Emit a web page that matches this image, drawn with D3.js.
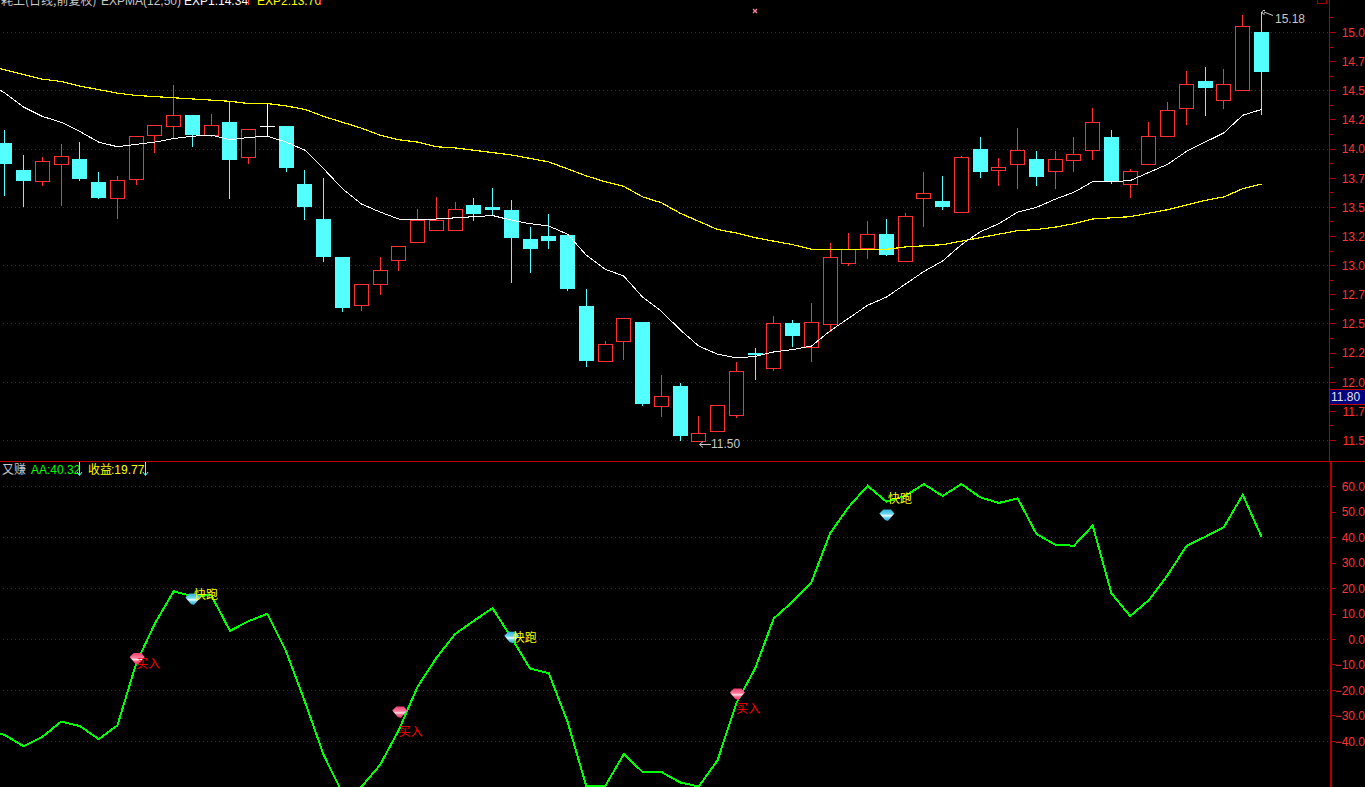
<!DOCTYPE html>
<html><head><meta charset="utf-8">
<style>html,body{margin:0;padding:0;background:#000;overflow:hidden}svg{display:block}</style>
<script src="https://cdn.jsdelivr.net/npm/d3@7/dist/d3.min.js"></script>
</head><body><svg id="c" width="1365" height="787"></svg>
<script>
// kind: r = rising (hollow red), c = falling (filled cyan), w = doji (white)
const kinds="c c r r c c r r r r c r c r w c c c c r r r r r r c c c c c c c r r c r c r r r c r c r r r r c r r c r c r r c r r r c r r r r c r r c".split(" ");
const highs=[14.16,13.95,13.93,14.04,14.06,13.80,13.77,14.11,14.20,14.55,14.29,14.30,14.40,14.17,14.39,14.19,13.82,13.75,13.07,12.84,13.07,13.16,13.49,13.59,13.55,13.58,13.67,13.56,13.33,13.44,13.26,12.80,12.35,12.55,12.51,12.06,11.99,11.71,11.80,12.17,12.29,12.57,12.53,12.68,13.19,13.28,13.38,13.40,13.45,13.80,13.77,13.94,14.10,13.92,14.18,13.98,13.98,14.10,14.35,14.16,13.83,14.23,14.40,14.67,14.70,14.69,15.15,15.18];
const tops=[14.05,13.82,13.89,13.94,13.91,13.71,13.73,14.11,14.20,14.29,14.29,14.20,14.23,14.17,14.19,14.19,13.70,13.40,13.07,12.84,12.96,13.16,13.39,13.39,13.48,13.52,13.50,13.47,13.22,13.25,13.26,12.65,12.32,12.55,12.51,11.88,11.96,11.56,11.80,12.09,12.25,12.50,12.50,12.51,13.07,13.14,13.27,13.27,13.42,13.62,13.55,13.93,14.00,13.84,13.99,13.91,13.91,13.95,14.23,14.10,13.81,14.11,14.33,14.55,14.58,14.55,15.05,15.00];
const bottoms=[13.87,13.73,13.73,13.87,13.74,13.58,13.58,13.74,14.12,14.20,14.12,14.12,13.91,13.93,14.19,13.84,13.50,13.07,12.64,12.66,12.84,13.05,13.20,13.31,13.31,13.44,13.48,13.24,13.14,13.21,12.80,12.18,12.18,12.35,11.81,11.80,11.54,11.50,11.58,11.72,12.23,12.12,12.40,12.30,12.50,13.02,13.15,13.09,13.04,13.58,13.50,13.46,13.80,13.82,13.87,13.76,13.81,13.91,13.99,13.72,13.70,13.87,14.11,14.35,14.52,14.42,14.51,14.66];
const lows=[13.60,13.50,13.68,13.51,13.73,13.57,13.40,13.69,13.97,14.09,14.02,14.10,13.57,13.87,14.11,13.80,13.39,13.03,12.60,12.61,12.75,12.95,13.20,13.31,13.31,13.38,13.43,12.85,12.94,13.14,12.78,12.13,12.18,12.19,11.80,11.70,11.50,11.50,11.58,11.69,12.02,12.10,12.30,12.17,12.43,13.00,13.06,13.08,13.04,13.33,13.48,13.46,13.75,13.68,13.66,13.68,13.66,13.80,13.91,13.70,13.58,13.86,14.10,14.21,14.28,14.34,14.51,14.29];
// Line series start one session before the first visible candle (index -1)
const exp1=[14.58,14.48,14.36,14.28,14.23,14.15,14.06,14.02,14.04,14.06,14.09,14.11,14.12,14.08,14.10,14.11,14.06,13.99,13.83,13.66,13.53,13.46,13.40,13.40,13.40,13.41,13.42,13.43,13.39,13.36,13.34,13.27,13.09,12.97,12.91,12.73,12.61,12.45,12.31,12.24,12.21,12.22,12.26,12.28,12.31,12.44,12.55,12.66,12.73,12.84,12.95,13.04,13.18,13.29,13.36,13.46,13.50,13.57,13.63,13.72,13.72,13.73,13.80,13.87,13.98,14.06,14.14,14.29,14.34];
const exp2=[14.72,14.68,14.64,14.60,14.58,14.54,14.51,14.48,14.46,14.45,14.44,14.43,14.42,14.41,14.39,14.39,14.37,14.34,14.28,14.23,14.18,14.12,14.08,14.06,14.02,14.01,13.99,13.97,13.95,13.92,13.89,13.83,13.77,13.72,13.68,13.59,13.54,13.45,13.38,13.31,13.28,13.24,13.21,13.18,13.14,13.14,13.14,13.14,13.14,13.16,13.17,13.18,13.21,13.24,13.27,13.30,13.31,13.33,13.36,13.40,13.41,13.42,13.45,13.48,13.52,13.56,13.59,13.66,13.70];
const aa=[-35.2,-37.5,-41.9,-38.2,-32.2,-34.0,-39.1,-33.7,-9.4,6.3,18.9,17.0,17.4,3.4,7.2,10.1,-4.8,-24.5,-45.4,-60.2,-57.9,-49.3,-35.6,-18.6,-7.3,2.1,7.3,12.3,0.8,-11.4,-13.2,-32.3,-57.6,-57.6,-45.0,-52.0,-52.0,-56.1,-57.7,-47.4,-25.0,-11.4,8.3,14.8,22.4,41.7,52.1,60.3,54.1,56.3,61.0,56.3,61.0,55.8,53.6,55.4,41.4,37.2,36.8,44.7,18.1,9.2,15.5,25.3,36.7,40.3,44.1,56.8,40.32];
const buyIdx=[7,21,39], buyGem=[-7.5,-28.5,-21.4], buyLabel=[-9.5,-36.3,-27];
const sellIdx=[10,27,47], sellGem=[15.9,0.9,48.9], sellLabel=[17.6,0.9,55.2];
const priceTicks=[15,14.75,14.5,14.25,14,13.75,13.5,13.25,13,12.75,12.5,12.25,12,11.75,11.5];
const priceTickLabels=["15.0","14.7","14.5","14.2","14.0","13.7","13.5","13.2","13.0","12.7","12.5","12.2","12.0","11.7","11.5"];
const priceGrid=[15,14.5,14,13.5,13,12.5,12,11.5];
const priceMinor=[15.125,14.875,14.625,14.375,14.125,13.875,13.625,13.375,13.125,12.875,12.625,12.375,12.125,11.875,11.625];
const aaTicks=[60,50,40,30,20,10,0,-10,-20,-30,-40];
const aaGrid=[60,40,20,0,-20,-40];
const lastPriceLabel="11.80";

const LAT="'Liberation Sans',Arial,sans-serif", CJK="'Noto Sans CJK SC','Liberation Sans',sans-serif";
const RED="#ff3232",CYAN="#54ffff",GRID="#a00000",AXIS="#b00000";
const x=d3.scaleLinear().domain([0,67]).range([4.9,1261.5]);
const y=d3.scaleLinear().domain([11.5,15]).range([440.5,32.5]);
const y2=d3.scaleLinear().domain([-40,60]).range([741.4,486.6]);
const svg=d3.select("#c");
svg.append("rect").attr("width",1365).attr("height",787).attr("fill","#000");
const crisp=s=>s.attr("shape-rendering","crispEdges");
const P=v=>Math.floor(v)+.5;

// grids
const grid=(vals,sc)=>crisp(svg.append("g")).selectAll("line").data(vals).join("line")
  .attr("x1",3).attr("x2",1329).attr("y1",d=>P(sc(d))).attr("y2",d=>P(sc(d)))
  .attr("stroke",GRID).attr("stroke-dasharray","1 3");
grid(priceGrid,y);grid(aaGrid,y2);

// candles
const idx=d3.range(kinds.length);
const g=crisp(svg.append("g"));
idx.forEach(i=>{
  const cx=P(x(i)),k=kinds[i],col=k==="r"?RED:k==="c"?CYAN:"#fff";
  const T=Math.floor(y(tops[i])),B=Math.round(y(bottoms[i]));
  const seg=(a,b)=>g.append("line").attr("x1",cx).attr("x2",cx).attr("y1",a).attr("y2",b).attr("stroke",col);
  if(y(highs[i])<T) seg(y(highs[i]),T);
  if(y(lows[i])>B) seg(B,y(lows[i]));
  if(k==="c") g.append("rect").attr("x",cx-7.5).attr("y",T).attr("width",15).attr("height",Math.max(1,B-T)).attr("fill",col);
  else if(k==="r") g.append("rect").attr("x",cx-7).attr("y",T+.5).attr("width",14).attr("height",B-T).attr("fill","#000").attr("stroke",col);
  else g.append("line").attr("x1",cx-7.5).attr("x2",cx+7.5).attr("y1",T+.5).attr("y2",T+.5).attr("stroke",col);
});

// price lines
const lineFor=sc=>d3.line().x((d,i)=>x(i-1)).y(d=>sc(d));
crisp(svg.append("path")).attr("d",lineFor(y)(exp2)).attr("fill","none").attr("stroke","#ffff00").attr("stroke-width",1.2);
crisp(svg.append("path")).attr("d",lineFor(y)(exp1)).attr("fill","none").attr("stroke","#fff").attr("stroke-width",1);

// oscillator pane clip + line
const defs=svg.append("defs");
defs.append("clipPath").attr("id","pane").append("rect").attr("x",0).attr("y",462).attr("width",1330).attr("height",325);
const lg=(id,stops)=>{const l=defs.append("linearGradient").attr("id",id).attr("x1",0).attr("y1",0).attr("x2",0).attr("y2",1);
  stops.forEach(s=>l.append("stop").attr("offset",s[0]).attr("stop-color",s[1]));};
lg("gemBuy",[[0,"#f04070"],[.4,"#ff7a9c"],[.55,"#ffe0ea"],[.7,"#ff6a90"],[1,"#e0305c"]]);
lg("gemSell",[[0,"#30b0d8"],[.4,"#6fd8ef"],[.55,"#f0fcff"],[.7,"#70d8f0"],[1,"#2aa0c8"]]);
crisp(svg.append("path")).attr("clip-path","url(#pane)").attr("d",lineFor(y2)(aa)).attr("fill","none").attr("stroke","#00ff00").attr("stroke-width",2);

// signals
const gem=(cx,cy,fill)=>svg.append("path").attr("d",d3.line()([[cx-7.5,cy-1.5],[cx-3.5,cy-5.5],[cx+4,cy-5.5],[cx+7.5,cy-1.5],[cx+1,cy+6],[cx-2,cy+5]])+"Z").attr("fill",fill);
const label=(cx,cy,t,col)=>svg.append("text").attr("x",cx).attr("y",cy).attr("dy",".36em").attr("font-family",CJK).attr("font-size",12).attr("fill",col).text(t);
buyIdx.forEach((v,i)=>{gem(x(v)+1,y2(buyGem[i]),"url(#gemBuy)");});
sellIdx.forEach((v,i)=>{gem(x(v)+.5,y2(sellGem[i]),"url(#gemSell)");});
buyIdx.forEach((v,i)=>{label(x(v),y2(buyLabel[i]),"买入","#ff0000");});
sellIdx.forEach((v,i)=>{label(x(v)+1.5,y2(sellLabel[i]),"快跑","#ffff00");});

// separators and axes
const L=(a,b,c,d,col,w)=>crisp(svg.append("line")).attr("x1",a).attr("y1",b).attr("x2",c).attr("y2",d).attr("stroke",col).attr("stroke-width",w||1);
L(0,461.5,1365,461.5,"#c00000");
L(1329.5,0,1329.5,461,AXIS);
L(1330.5,462,1330.5,787,AXIS,2);
const tick=(v,len)=>L(1330,P(v),1330+len,P(v),AXIS);
priceTicks.forEach(v=>tick(y(v),6));
priceMinor.forEach(v=>tick(y(v),3));
aaTicks.forEach(v=>tick(y2(v),6));
const axT=(yy,t,col)=>svg.append("text").attr("x",1365).attr("y",yy).attr("dy",".36em").attr("text-anchor","end").attr("font-family",LAT).attr("font-size",12).attr("fill",col).text(t);
priceTicks.forEach((v,i)=>axT(y(v),priceTickLabels[i],RED));
aaTicks.forEach(v=>axT(y2(v),d3.format(".1f")(v),RED));

// last price flag
crisp(svg.append("rect")).attr("x",1330).attr("y",389).attr("width",35).attr("height",16).attr("fill","#000080");
L(1330,389.5,1365,389.5,"#c00000");L(1330,404.5,1365,404.5,"#c00000");
svg.append("text").attr("x",1331).attr("y",397).attr("dy",".36em").attr("font-family",LAT).attr("font-size",12).attr("fill","#e0e0e0").text(lastPriceLabel);

// top-right box, cross marker
crisp(svg.append("rect")).attr("x",1317.5).attr("y",-2).attr("width",9).attr("height",5).attr("fill","none").attr("stroke","#a00000");
svg.append("path").attr("d","M753 9L757 13M757 9L753 13").attr("stroke","#ff80a0").attr("stroke-width",1.3);

// extreme annotations
svg.append("path").attr("d","M1265 10.5L1263 10.5L1262 12L1263 14L1265 14M1264 12L1273 15.5").attr("fill","none").attr("stroke","#c8c8c8");
svg.append("text").attr("x",1275).attr("y",19).attr("dy",".36em").attr("font-family",LAT).attr("font-size",12).attr("fill","#c8c8c8").text("15.18");
svg.append("path").attr("d","M711 444.5L699.5 444.5M703 441.5L699.5 444.5L703 447.5").attr("fill","none").attr("stroke","#c8c8c8");
svg.append("text").attr("x",711).attr("y",444).attr("dy",".36em").attr("font-family",LAT).attr("font-size",12).attr("fill","#c8c8c8").text("11.50");

// headers
const hdr=(xx,yy,t,col,f)=>svg.append("text").attr("x",xx).attr("y",yy).attr("font-family",f||LAT).attr("font-size",12).attr("fill",col).text(t);
hdr(1,5,"耗上(日线,前复权)","#c8c8c8",CJK);
hdr(101,5,"EXPMA(12,50)","#c8c8c8");
hdr(184,5,"EXP1:14.34","#ffffff");
hdr(257,5,"EXP2:13.70","#ffff00");
L(248.5,0,248.5,5,"#ff3232");L(320.5,0,320.5,5,"#ff3232");
hdr(2,474,"又赚","#c8c8c8",CJK);
hdr(31,474,"AA:40.32","#00ff00");
hdr(88,474,"收益","#ffff00",CJK);
hdr(111,474,":19.77","#ffff00");
const arrow=xx=>{L(xx+.5,462,xx+.5,475,CYAN);svg.append("path").attr("d",`M${xx-2} 472L${xx+.5} 475.5L${xx+3} 472`).attr("fill","none").attr("stroke",CYAN);};
arrow(79);arrow(145);
</script></body></html>
